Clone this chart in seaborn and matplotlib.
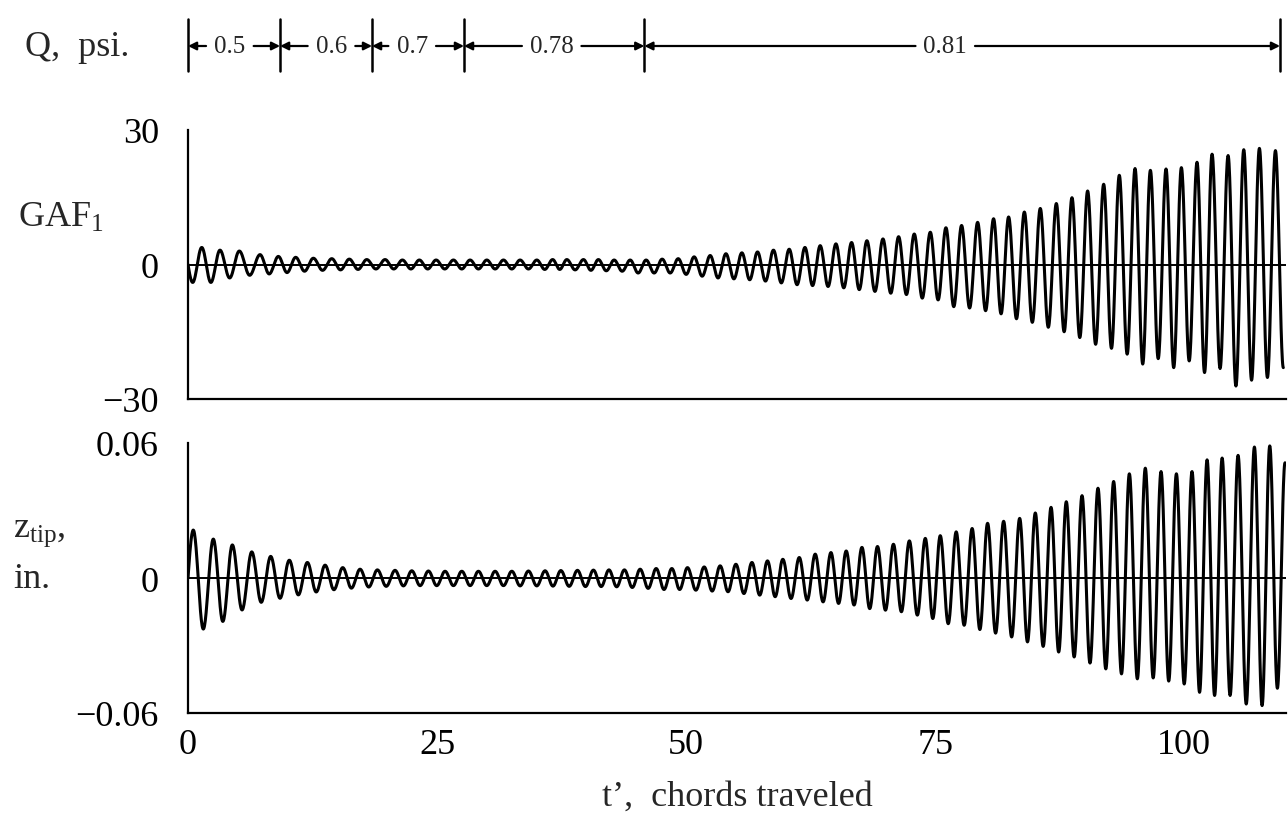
import numpy as np
import pandas as pd
import matplotlib
matplotlib.use("Agg")
import matplotlib.pyplot as plt
import matplotlib.transforms as mtransforms
from matplotlib.lines import Line2D
import seaborn as sns

# ---------------- data ----------------
# GAF1: times (chords) of successive positive peaks, peak values, and trough value after each peak
gaf_first_trough_t = 0.47
gaf_first_trough = -4.0
gaf_peak_t = [1.38, 3.21, 5.15, 7.23, 9.07, 10.81, 12.58, 14.43, 16.19, 17.94, 19.78, 21.52,
              23.22, 24.90, 26.64, 28.31, 29.99, 31.66, 33.33, 35.01, 36.60, 38.02, 39.69, 41.19,
              42.77, 44.38, 45.98, 47.59, 49.20, 50.80, 52.41, 53.99, 55.59, 57.16, 58.76, 60.34,
              61.92, 63.45, 65.03, 66.60, 68.14, 69.75, 71.32, 72.89, 74.50, 76.07, 77.64, 79.25,
              80.85, 82.36, 83.94, 85.54, 87.15, 88.72, 90.29, 91.90, 93.47, 95.05, 96.59, 98.16,
              99.70, 101.27, 102.78, 104.39, 105.96, 107.53, 109.14]
gaf_peak = [3.8, 3.2, 3.0, 2.2, 1.8, 1.6, 1.4, 1.3, 1.2, 1.1, 1.1, 1.0,
            1.0, 1.0, 1.0, 1.0, 1.0, 1.0, 1.0, 1.0, 1.1, 1.1, 1.1, 1.1,
            1.0, 1.0, 1.0, 1.2, 1.3, 1.7, 2.0, 2.4, 2.6, 2.8, 3.2, 3.4,
            3.8, 4.2, 4.6, 4.9, 5.3, 5.7, 6.2, 6.8, 7.2, 8.2, 8.7, 9.4,
            10.2, 10.6, 11.7, 12.5, 13.6, 14.9, 16.4, 17.9, 19.9, 21.4, 21.0, 21.3,
            21.6, 22.8, 24.6, 24.3, 25.6, 25.9, 25.4]
gaf_trough = [-4.0, -3.0, -2.4, -2.1, -1.8, -1.5, -1.3, -1.2, -1.1, -1.0, -1.0, -1.0,
              -1.0, -1.0, -1.0, -1.0, -1.0, -1.0, -1.0, -1.1, -1.1, -1.2, -1.3, -1.4,
              -1.5, -1.9, -1.9, -1.9, -2.2, -2.6, -3.0, -3.2, -3.4, -3.7, -4.1, -4.5,
              -4.7, -4.9, -5.2, -5.6, -6.0, -6.4, -6.7, -7.5, -7.9, -9.4, -9.7, -10.3,
              -11.0, -12.1, -12.9, -14.0, -15.0, -16.3, -17.8, -18.7, -20.0, -22.2, -21.0, -23.0,
              -21.5, -24.1, -23.2, -27.1, -25.8, -25.2, -23.0]

# z_tip (in.)
ztip_peak_t = [0.53, 2.54, 4.45, 6.40, 8.30, 10.17, 11.98, 13.76, 15.53, 17.27, 19.01, 20.78,
               22.46, 24.13, 25.80, 27.48, 29.15, 30.82, 32.50, 34.17, 35.84, 37.42, 39.09, 40.69,
               42.25, 43.80, 45.38, 46.99, 48.56, 50.13, 51.81, 53.41, 54.99, 56.60, 58.16, 59.70,
               61.35, 62.95, 64.53, 66.06, 67.64, 69.20, 70.80, 72.40, 74.00, 75.50, 77.10, 78.70,
               80.25, 81.86, 83.47, 85.04, 86.62, 88.15, 89.73, 91.33, 92.90, 94.48, 96.08, 97.66,
               99.20, 100.77, 102.28, 103.79, 105.39, 107.03, 108.57, 110.10]
ztip_peak = [0.0213, 0.0173, 0.0147, 0.0116, 0.0096, 0.0079, 0.0069, 0.0057, 0.0046, 0.0039, 0.0036, 0.0034,
             0.0032, 0.0031, 0.0030, 0.0030, 0.0030, 0.0030, 0.0030, 0.0031, 0.0032, 0.0033, 0.0034, 0.0035,
             0.0036, 0.0036, 0.0039, 0.0042, 0.0042, 0.0046, 0.0049, 0.0054, 0.0061, 0.0069, 0.0076, 0.0083,
             0.0091, 0.0106, 0.0113, 0.0120, 0.0136, 0.0140, 0.0150, 0.0165, 0.0176, 0.0188, 0.0205, 0.0220,
             0.0243, 0.0252, 0.0265, 0.0289, 0.0314, 0.0339, 0.0366, 0.0399, 0.0429, 0.0463, 0.0488, 0.0473,
             0.0463, 0.0473, 0.0525, 0.0533, 0.0545, 0.0582, 0.0587, 0.0512]
ztip_trough = [-0.0227, -0.0193, -0.0142, -0.0108, -0.0090, -0.0075, -0.0062, -0.0052, -0.0045, -0.0040, -0.0037, -0.0035,
               -0.0034, -0.0034, -0.0034, -0.0034, -0.0034, -0.0034, -0.0035, -0.0035, -0.0036, -0.0037, -0.0038, -0.0038,
               -0.0039, -0.0042, -0.0046, -0.0051, -0.0051, -0.0054, -0.0058, -0.0061, -0.0069, -0.0076, -0.0083, -0.0091,
               -0.0098, -0.0106, -0.0113, -0.0120, -0.0136, -0.0143, -0.0150, -0.0165, -0.0180, -0.0203, -0.0210, -0.0229,
               -0.0245, -0.0262, -0.0284, -0.0304, -0.0329, -0.0351, -0.0378, -0.0404, -0.0426, -0.0448, -0.0444, -0.0458,
               -0.0471, -0.0508, -0.0522, -0.0522, -0.0560, -0.0567, -0.0490]

# dynamic pressure schedule (top annotation)
q_bounds = [0.0, 9.24, 18.47, 27.7, 45.8, 109.6]
q_labels = ["0.5", "0.6", "0.7", "0.78", "0.81"]
q_label_t = [4.2, 14.4, 22.5, 36.5, 76.0]

x_ticks = [0, 25, 50, 75, 100]
gaf_ticks = [-30, 0, 30]
gaf_ticklabels = ["\u221230", "0", "30"]
ztip_ticks = [-0.06, 0, 0.06]
ztip_ticklabels = ["\u22120.06", "0", "0.06"]
X_MAX = 110.2


# ---------------- helpers ----------------
def extrema_sequence(peak_t, peaks, troughs, first=None, last_half=None):
    """Alternate peaks and troughs; trough times lie midway between peaks."""
    ts, vs = [0.0], [0.0]
    if first is not None:
        ts.append(first[0]); vs.append(first[1])
    n = len(peak_t)
    for i in range(n):
        ts.append(peak_t[i]); vs.append(peaks[i])
        if i < len(troughs):
            if i + 1 < n:
                tt = 0.5 * (peak_t[i] + peak_t[i + 1])
            else:
                tt = peak_t[i] + last_half
            ts.append(tt); vs.append(troughs[i])
    return ts, vs


def trace(ts, vs, n=26):
    tt_all, yy_all = [], []
    for k in range(len(ts) - 1):
        ta, tb, ya, yb = ts[k], ts[k + 1], vs[k], vs[k + 1]
        s = np.linspace(0, 1, n)
        if k == 0:
            y = yb * np.sin(0.5 * np.pi * s)
        else:
            y = 0.5 * (ya + yb) + 0.5 * (ya - yb) * np.cos(np.pi * s)
        tt_all.append(ta + s * (tb - ta)); yy_all.append(y)
    return np.concatenate(tt_all), np.concatenate(yy_all)


gts, gvs = extrema_sequence(gaf_peak_t, gaf_peak, gaf_trough,
                            first=(gaf_first_trough_t, gaf_first_trough), last_half=0.79)
g_t, g_y = trace(gts, gvs)
zts, zvs = extrema_sequence(ztip_peak_t, ztip_peak, ztip_trough)
z_t, z_y = trace(zts, zvs)

df_g = pd.DataFrame({"t": g_t, "v": g_y})
df_z = pd.DataFrame({"t": z_t, "v": z_y})

# ---------------- style ----------------
sns.set_theme(style="white")
plt.rcParams["font.family"] = ["Liberation Serif", "DejaVu Serif"]
plt.rcParams["mathtext.fontset"] = "custom"
plt.rcParams["mathtext.rm"] = "Liberation Serif"
plt.rcParams["mathtext.it"] = "Liberation Serif"

W, H = 1288, 820
fig = plt.figure(figsize=(W / 100, H / 100), dpi=100)
fig.patch.set_facecolor("white")

L, R = 188 / W, 1286 / W
ax1 = fig.add_axes([L, 1 - 400 / H, R - L, 269 / H])
ax2 = fig.add_axes([L, 1 - 714 / H, R - L, 270 / H])

FS = 26
for ax, df, yl, yt, ytl in [(ax1, df_g, (-30, 30), gaf_ticks, gaf_ticklabels),
                            (ax2, df_z, (-0.06, 0.06), ztip_ticks, ztip_ticklabels)]:
    ax.set_facecolor("white")
    ax.axhline(0, color="black", lw=1.4, zorder=1)
    sns.lineplot(data=df, x="t", y="v", ax=ax, color="black", lw=2.2,
                 sort=False, estimator=None, zorder=2)
    ax.set_xlim(0, X_MAX)
    ax.set_ylim(*yl)
    for s in ["top", "right"]:
        ax.spines[s].set_visible(False)
    for s in ["left", "bottom"]:
        ax.spines[s].set_color("black")
        ax.spines[s].set_linewidth(1.6)
    ax.set_yticks(yt)
    ax.set_yticklabels(ytl, fontsize=FS)
    ax.set_xticks(x_ticks)
    ax.set_xticks([X_MAX], minor=True)
    ax.tick_params(axis="y", direction="in", length=6, width=1.5, pad=21, colors="black")
    ax.tick_params(axis="x", which="both", direction="in", length=4, width=1.5, colors="black")
    ax.set_xlabel("")
    ax.set_ylabel("")
    ax.grid(False)

ax1.tick_params(axis="x", labelbottom=False)
ax2.set_xticklabels([str(v) for v in x_ticks], fontsize=FS)
ax2.tick_params(axis="x", pad=11)

# axis titles
fig.text(18 / W, 1 - 218 / H, r"GAF$_\mathregular{1}$", fontsize=FS, ha="left", va="center")
fig.text(13 / W, 1 - 533 / H, r"z$_\mathregular{tip}$,", fontsize=FS, ha="left", va="center")
fig.text(13 / W, 1 - 580 / H, "in.", fontsize=FS, ha="left", va="center")
fig.text((L + R) / 2, 1 - 797 / H, "t\u2019,  chords traveled", fontsize=FS, ha="center", va="center")

# top dynamic-pressure schedule
trans = mtransforms.blended_transform_factory(ax1.transData, fig.transFigure)
y_line = 1 - 47 / H
fig.text(25 / W, y_line, "Q,  psi.", fontsize=FS, ha="left", va="center")
for b in q_bounds:
    fig.add_artist(Line2D([b, b], [1 - 20 / H, 1 - 72 / H], transform=trans,
                          color="black", lw=1.8, clip_on=False))
QFS = 18
px_per_t = (1286 - 188) / X_MAX
for i, (lab, tc) in enumerate(zip(q_labels, q_label_t)):
    fig.text(tc, y_line, lab, fontsize=QFS, ha="center", va="center", transform=trans)
    half = (len(lab) * 0.5 * QFS * 1.39 * 0.95) / 2 / px_per_t + 0.6
    for tgt, src in [(q_bounds[i], tc - half), (q_bounds[i + 1], tc + half)]:
        ann = ax1.annotate("", xy=(tgt, y_line), xycoords=trans,
                           xytext=(src, y_line), textcoords=trans,
                           arrowprops=dict(arrowstyle="-|>", color="black", lw=1.6,
                                           mutation_scale=12, shrinkA=0, shrinkB=0))
        ann.set_annotation_clip(False)

fig.savefig("out.png", dpi=100, facecolor="white")
